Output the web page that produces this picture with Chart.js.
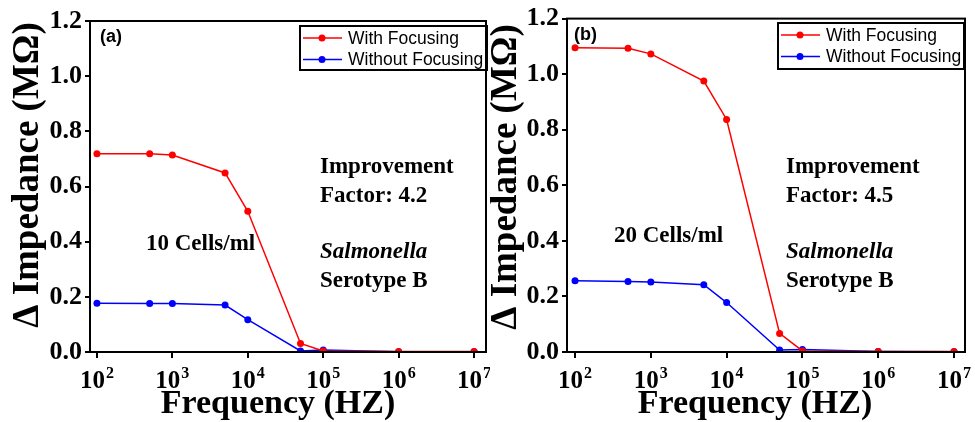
<!DOCTYPE html>
<html>
<head>
<meta charset="utf-8">
<script src="https://cdn.jsdelivr.net/npm/chart.js@4/dist/chart.umd.min.js"></script>
<style>
  html, body { margin: 0; padding: 0; background: #fff; }
  #wrap { position: relative; width: 975px; height: 422px; }
  canvas { position: absolute; top: 0; }
</style>
</head>
<body>
<div id="wrap">
  <canvas id="chartA" width="490" height="422" style="left:0"></canvas>
  <canvas id="chartB" width="485" height="422" style="left:490px"></canvas>
</div>
<script>
// frequency points (Hz)
const freqs = [1e2, 5e2, 1e3, 5e3, 1e4, 5e4, 1e5, 1e6, 1e7];

// panel (a): 10 cells/ml
const withFocusA    = [0.719, 0.719, 0.714, 0.649, 0.510, 0.031, 0.004, 0.002, 0.002];
const withoutFocusA = [0.177, 0.176, 0.176, 0.170, 0.117, 0.004, 0.007, 0.001, 0.001];

// panel (b): 20 cells/ml
const withFocusB    = [1.095, 1.093, 1.073, 0.975, 0.837, 0.067, 0.004, 0.002, 0.002];
const withoutFocusB = [0.256, 0.254, 0.252, 0.242, 0.178, 0.007, 0.009, 0.002, 0.001];

// ticks
const xTicks = [1e2, 1e3, 1e4, 1e5, 1e6, 1e7];
const yTicks = [0, 0.2, 0.4, 0.6, 0.8, 1.0, 1.2];

const seriesLabels = ['With Focusing', 'Without Focusing'];
const RED = '#ff0000';
const BLUE = '#0000ff';
const SERIF = '"Liberation Serif", "Times New Roman", serif';
const SANS = '"Liberation Sans", Arial, sans-serif';

// draws frame, superscript tick labels, titles, notes and boxed legend
const decorPlugin = {
  id: 'decor',
  afterDraw(chart, args, opts) {
    const ctx = chart.ctx;
    const a = chart.chartArea;
    ctx.save();

    // frame
    ctx.strokeStyle = '#000';
    ctx.lineWidth = 2;
    ctx.strokeRect(a.left, a.top, a.right - a.left, a.bottom - a.top);

    // x tick labels as 10^n
    ctx.fillStyle = '#000';
    ctx.textBaseline = 'alphabetic';
    ctx.textAlign = 'left';
    const xs = chart.scales.x;
    xTicks.forEach(v => {
      const px = xs.getPixelForValue(v);
      const exp = String(Math.round(Math.log10(v)));
      ctx.font = 'bold 25px ' + SERIF;
      const wBase = ctx.measureText('10').width;
      ctx.font = 'bold 16px ' + SERIF;
      const wExp = ctx.measureText(exp).width;
      const x0 = px - (wBase + wExp + 1) / 2;
      ctx.font = 'bold 25px ' + SERIF;
      ctx.fillText('10', x0, opts.xTickY);
      ctx.font = 'bold 16px ' + SERIF;
      ctx.fillText(exp, x0 + wBase + 1, opts.xTickY - 10);
    });

    // axis titles
    ctx.textAlign = 'center';
    ctx.font = 'bold 34px ' + SERIF;
    ctx.fillText('Frequency (HZ)', opts.xTitle[0], opts.xTitle[1]);
    ctx.save();
    ctx.translate(opts.yTitle[0], opts.yTitle[1]);
    ctx.rotate(-Math.PI / 2);
    ctx.textBaseline = 'middle';
    ctx.font = 'bold 37px ' + SERIF;
    ctx.fillText('\u0394 Impedance (M\u03a9)', 0, 0);
    ctx.restore();

    // panel letter
    ctx.textAlign = 'left';
    ctx.font = 'bold 18px ' + SANS;
    ctx.fillText(opts.letter[0], opts.letter[1], opts.letter[2]);

    // notes
    opts.notes.forEach(n => {
      ctx.font = (n[3] ? 'italic ' : '') + 'bold 23px ' + SERIF;
      ctx.fillText(n[0], n[1], n[2]);
    });

    // legend
    const lg = opts.legend;
    ctx.lineWidth = 2;
    ctx.strokeStyle = '#000';
    ctx.strokeRect(lg.x, lg.y, lg.w, lg.h);
    ctx.font = '17.5px ' + SANS;
    ctx.textBaseline = 'middle';
    chart.data.datasets.forEach((ds, i) => {
      const cy = lg.y + 12 + i * 21.5;
      ctx.strokeStyle = ds.borderColor;
      ctx.lineWidth = 1.5;
      ctx.beginPath();
      ctx.moveTo(lg.x + 3, cy);
      ctx.lineTo(lg.x + 42, cy);
      ctx.stroke();
      ctx.fillStyle = ds.borderColor;
      ctx.beginPath();
      ctx.arc(lg.x + 22, cy, 3.5, 0, Math.PI * 2);
      ctx.fill();
      ctx.fillStyle = '#000';
      ctx.fillText(ds.label, lg.x + 48, cy + 1);
    });

    ctx.restore();
  }
};

function makeDataset(label, values, color) {
  return {
    label: label,
    data: freqs.map((f, i) => ({ x: f, y: values[i] })),
    borderColor: color,
    backgroundColor: color,
    borderWidth: 1.5,
    pointRadius: 3.5,
    pointBorderWidth: 0,
    pointBackgroundColor: color,
    tension: 0
  };
}

function makeChart(id, withVals, withoutVals, p) {
  return new Chart(document.getElementById(id), {
    type: 'line',
    data: {
      datasets: [
        makeDataset(seriesLabels[0], withVals, RED),
        makeDataset(seriesLabels[1], withoutVals, BLUE)
      ]
    },
    options: {
      responsive: false,
      animation: false,
      layout: { padding: { top: p.top, right: p.padRight, left: 0, bottom: 0 } },
      plugins: {
        legend: { display: false },
        tooltip: { enabled: false },
        decor: p.decor
      },
      scales: {
        x: {
          type: 'logarithmic',
          min: p.xmin,
          max: p.xmax,
          afterBuildTicks: s => { s.ticks = xTicks.map(v => ({ value: v })); },
          afterFit: s => { s.height = p.bottomH; },
          ticks: { display: false },
          grid: { drawOnChartArea: false, drawTicks: true, tickLength: 6, color: '#000', lineWidth: 2 },
          border: { display: true, color: '#000', width: 2 }
        },
        y: {
          min: 0,
          max: 1.2,
          afterBuildTicks: s => { s.ticks = yTicks.map(v => ({ value: v })); },
          afterFit: s => { s.width = p.leftW; },
          ticks: {
            color: '#000',
            padding: 3,
            font: { family: SERIF, size: 26, weight: 'bold' },
            callback: v => Number(v).toFixed(1)
          },
          grid: { drawOnChartArea: false, drawTicks: true, tickLength: 5, color: '#000', lineWidth: 2 },
          border: { display: true, color: '#000', width: 2 }
        }
      }
    },
    plugins: [decorPlugin]
  });
}

makeChart('chartA', withFocusA, withoutFocusA, {
  top: 21, padRight: 1, leftW: 90, bottomH: 70,
  xmin: Math.pow(10, 1.908), xmax: Math.pow(10, 7.158),
  decor: {
    xTickY: 388,
    xTitle: [278, 413],
    yTitle: [28, 175],
    letter: ['(a)', 100, 42],
    notes: [
      ['Improvement', 320, 173, false],
      ['Factor: 4.2', 320, 202, false],
      ['10 Cells/ml', 146, 250, false],
      ['Salmonella', 320, 258, true],
      ['Serotype B', 320, 287, false]
    ],
    legend: { x: 300, y: 26, w: 187, h: 44 }
  }
});

makeChart('chartB', withFocusB, withoutFocusB, {
  top: 18, padRight: 10, leftW: 77, bottomH: 70,
  xmin: Math.pow(10, 1.894), xmax: Math.pow(10, 7.145),
  decor: {
    xTickY: 388,
    xTitle: [265, 413],
    yTitle: [16, 177],
    letter: ['(b)', 84, 40],
    notes: [
      ['Improvement', 296, 173, false],
      ['Factor: 4.5', 296, 202, false],
      ['20 Cells/ml', 124, 242, false],
      ['Salmonella', 296, 258, true],
      ['Serotype B', 296, 287, false]
    ],
    legend: { x: 288, y: 23, w: 186, h: 46 }
  }
});
</script>
</body>
</html>
